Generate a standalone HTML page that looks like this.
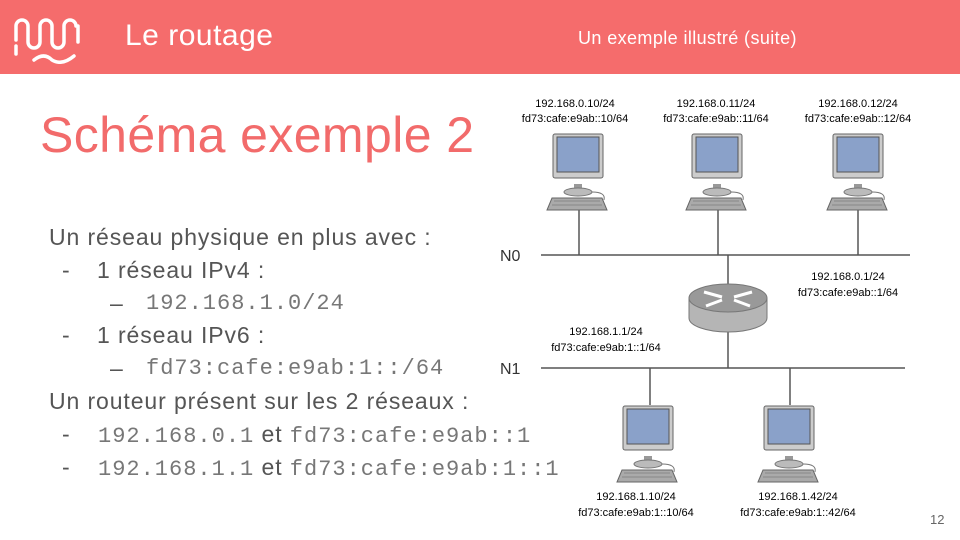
<!DOCTYPE html>
<html><head><meta charset="utf-8"><style>
body{margin:0;width:960px;height:540px;background:#fff;position:relative;overflow:hidden;font-family:"Liberation Sans",sans-serif}
.hdr{position:absolute;left:0;top:0;width:960px;height:74px;background:#f56c6c}
.t{position:absolute;white-space:nowrap}
.m{font-family:"Liberation Mono",monospace;color:#777;letter-spacing:1px;font-size:22px}
.l{font-size:23px;color:#555;letter-spacing:0.9px}
</style></head><body>
<div class="hdr"></div>
<svg class="t" style="left:12px;top:12px" width="72" height="52" viewBox="0 0 72 52" fill="none" stroke="#fff" stroke-width="3.5" stroke-linecap="round">
<path d="M4 28 V14 a6 6 0 0 1 12 0 V30 a6 6 0 0 0 12 0 V14 a6 6 0 0 1 12 0 V30 a6 6 0 0 0 12 0 V14 a6 6 0 0 1 12 0"/>
<path d="M4 34 V42 M66 14 V30 M22 48 q10 -8 18 0 q10 6 22 -4"/>
</svg>
<div class="t" style="left:125px;top:19px;font-size:30px;color:#fff;letter-spacing:0.5px">Le routage</div>
<div class="t" style="left:578px;top:28px;font-size:18px;color:#fff;letter-spacing:0.4px">Un exemple illustré (suite)</div>
<div class="t" style="left:40px;top:106px;font-size:50px;color:#f26b6b;letter-spacing:0.4px">Schéma exemple 2</div>
<div class="t l" style="left:49px;top:224px">Un réseau physique en plus avec :</div>
<div class="t l" style="left:62px;top:257px">-<span style="position:absolute;left:35px">1 réseau IPv4 :</span></div>
<div class="t l" style="left:110px;top:290px">–<span class="m" style="position:absolute;left:36px;top:1px">192.168.1.0/24</span></div>
<div class="t l" style="left:62px;top:322px">-<span style="position:absolute;left:35px">1 réseau IPv6 :</span></div>
<div class="t l" style="left:110px;top:355px">–<span class="m" style="position:absolute;left:36px;top:1px">fd73:cafe:e9ab:1::/64</span></div>
<div class="t l" style="left:49px;top:388px">Un routeur présent sur les 2 réseaux :</div>
<div class="t l" style="left:62px;top:421px">-<span style="position:absolute;left:36px"><span class="m">192.168.0.1</span> et <span class="m">fd73:cafe:e9ab::1</span></span></div>
<div class="t l" style="left:62px;top:454px">-<span style="position:absolute;left:36px"><span class="m">192.168.1.1</span> et <span class="m">fd73:cafe:e9ab:1::1</span></span></div>
<div class="t" style="left:930px;top:512px;font-size:13px;color:#666">12</div>

<svg class="t" style="left:0;top:0" width="960" height="540">
<defs>
<g id="pc">
<rect x="-4" y="50" width="8" height="8" fill="#999"/>
<ellipse cx="0" cy="58" rx="14" ry="4" fill="#bbb" stroke="#777"/>
<path d="M-26 64 L24 64 L29 76 L-31 76 Z" fill="#aaa" stroke="#666"/>
<path d="M-24 67 L22 67 M-26 71 L24 71" stroke="#888"/>
<path d="M14 58 q14 0 12 8" stroke="#777" fill="none"/>
<rect x="-25" y="0" width="50" height="44" rx="2" fill="#ccc" stroke="#666"/>
<rect x="-21" y="3" width="42" height="35" fill="#8aa1c9" stroke="#555"/>
</g>
</defs>
<g stroke="#555" stroke-width="1.5">
<line x1="541" y1="255" x2="910" y2="255"/>
<line x1="541" y1="368" x2="905" y2="368"/>
<line x1="579" y1="205" x2="579" y2="255"/>
<line x1="718" y1="205" x2="718" y2="255"/>
<line x1="858" y1="205" x2="858" y2="255"/>
<line x1="728" y1="255" x2="728" y2="290"/>
<line x1="728" y1="330" x2="728" y2="368"/>
<line x1="650" y1="368" x2="650" y2="405"/>
<line x1="790" y1="368" x2="790" y2="405"/>
</g>
<use href="#pc" x="578" y="134"/>
<use href="#pc" x="717" y="134"/>
<use href="#pc" x="858" y="134"/>
<use href="#pc" x="648" y="406"/>
<use href="#pc" x="789" y="406"/>
<path d="M689 298 V318 A39 14 0 0 0 767 318 V298 Z" fill="#b5b5b5" stroke="#777"/>
<ellipse cx="728" cy="298" rx="39" ry="14" fill="#999" stroke="#777"/>
<g stroke="#fff" stroke-width="3" fill="#fff">
<line x1="704" y1="292" x2="722" y2="297"/><line x1="752" y1="292" x2="734" y2="297"/>
<line x1="706" y1="306" x2="722" y2="300"/><line x1="750" y1="306" x2="734" y2="300"/>
</g>
<g font-family="Liberation Sans,sans-serif" font-size="11" fill="#000" text-anchor="middle">
<text x="575" y="107">192.168.0.10/24</text><text x="575" y="122">fd73:cafe:e9ab::10/64</text>
<text x="716" y="107">192.168.0.11/24</text><text x="716" y="122">fd73:cafe:e9ab::11/64</text>
<text x="858" y="107">192.168.0.12/24</text><text x="858" y="122">fd73:cafe:e9ab::12/64</text>
<text x="848" y="280">192.168.0.1/24</text><text x="848" y="296">fd73:cafe:e9ab::1/64</text>
<text x="606" y="335">192.168.1.1/24</text><text x="606" y="351">fd73:cafe:e9ab:1::1/64</text>
<text x="636" y="500">192.168.1.10/24</text><text x="636" y="516">fd73:cafe:e9ab:1::10/64</text>
<text x="798" y="500">192.168.1.42/24</text><text x="798" y="516">fd73:cafe:e9ab:1::42/64</text>
</g>
<g font-family="Liberation Sans,sans-serif" font-size="16" fill="#333">
<text x="500" y="261">N0</text><text x="500" y="374">N1</text>
</g>
</svg>
</body></html>
